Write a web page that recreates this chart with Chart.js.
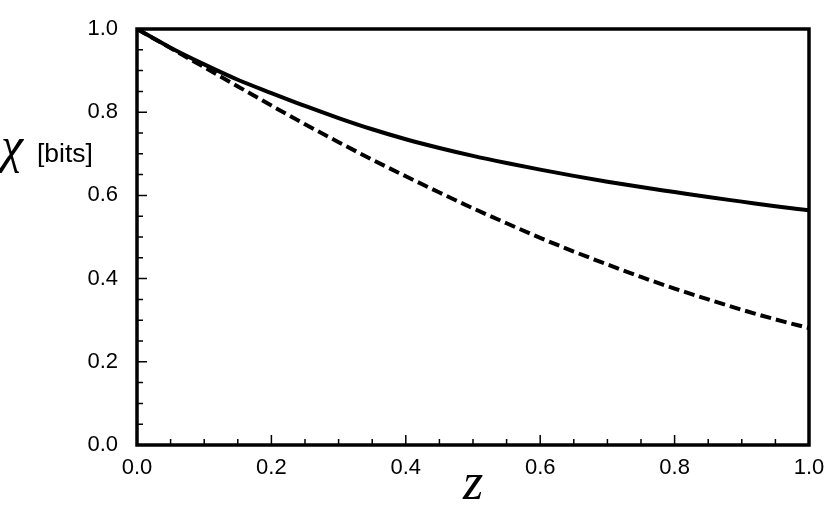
<!DOCTYPE html>
<html>
<head>
<meta charset="utf-8">
<title>chi vs z</title>
<script src="https://cdn.jsdelivr.net/npm/chart.js@4.4.1/dist/chart.umd.min.js"></script>
<style>
    html, body { margin: 0; padding: 0; background: #fff; }
    canvas { display: block; }
</style>
</head>
<body>
<canvas id="chiChart" width="830" height="523"></canvas>
<script>
// values
const zValues = [0, 0.05, 0.1, 0.15, 0.2, 0.25, 0.3, 0.35, 0.4, 0.45, 0.5,
                 0.55, 0.6, 0.65, 0.7, 0.75, 0.8, 0.85, 0.9, 0.95, 1.0];
const solidValues = [1.000, 0.955, 0.915, 0.878, 0.846, 0.815, 0.786, 0.759, 0.735, 0.714, 0.695,
                     0.678, 0.662, 0.647, 0.633, 0.620, 0.608, 0.596, 0.585, 0.574, 0.564];
const dashedValues = [1.000, 0.954, 0.908, 0.862, 0.816, 0.771, 0.728, 0.686, 0.646, 0.607, 0.569,
                      0.533, 0.498, 0.465, 0.434, 0.404, 0.376, 0.350, 0.325, 0.302, 0.281];
const tickStep = 0.2;   // labelled ticks
const minorStep = 0.05; // small ticks

function toPoints(values) {
    return zValues.map((z, i) => ({ x: z, y: values[i] }));
}

// frame, inward ticks and the two axis titles
const framePlugin = {
    id: 'frame',
    afterDatasetsDraw(chart) {
        const ctx = chart.ctx;
        const area = chart.chartArea;
        const xs = chart.scales.x;
        const ys = chart.scales.y;
        ctx.save();
        ctx.strokeStyle = '#000';

        // small and large ticks pointing into the plot
        ctx.lineWidth = 1.5;
        const n = Math.round(1 / minorStep);
        for (let i = 0; i <= n; i++) {
            const v = i * minorStep;
            const len = (i % 4 === 0) ? 10 : 6;
            const px = xs.getPixelForValue(v);
            const py = ys.getPixelForValue(v);
            ctx.beginPath();
            ctx.moveTo(px, area.bottom);
            ctx.lineTo(px, area.bottom - len);
            ctx.moveTo(area.left, py);
            ctx.lineTo(area.left + len, py);
            ctx.stroke();
        }

        // box round the plot
        ctx.lineWidth = 3.5;
        ctx.strokeRect(area.left, area.top, area.right - area.left, area.bottom - area.top);

        // axis titles
        ctx.fillStyle = '#000';
        ctx.textBaseline = 'alphabetic';
        ctx.textAlign = 'left';
        ctx.font = 'italic 50px "Liberation Serif"';
        ctx.fillText('χ', 1, 162);
        ctx.font = '26.5px "Liberation Sans"';
        ctx.fillText('[bits]', 37, 162);
        ctx.textAlign = 'center';
        ctx.font = 'italic 52px "Liberation Serif"';
        ctx.fillText('z', xs.getPixelForValue(0.5), area.bottom + 54);
        ctx.restore();
    }
};

const tickFont = { family: '"Liberation Sans", Arial, sans-serif', size: 22 };

// keep the plot box where the reference has it
function noPadding(scale) {
    scale.paddingLeft = 0;
    scale.paddingRight = 0;
    scale.paddingTop = 0;
    scale.paddingBottom = 0;
}

new Chart(document.getElementById('chiChart'), {
    type: 'line',
    data: {
        datasets: [
            {
                label: 'solid',
                data: toPoints(solidValues),
                borderColor: '#000',
                borderWidth: 4,
                pointRadius: 0,
                cubicInterpolationMode: 'monotone',
                fill: false
            },
            {
                label: 'dashed',
                data: toPoints(dashedValues),
                borderColor: '#000',
                borderWidth: 4,
                borderDash: [11, 5],
                pointRadius: 0,
                cubicInterpolationMode: 'monotone',
                fill: false
            }
        ]
    },
    options: {
        responsive: false,
        animation: false,
        layout: { padding: { top: 29, right: 21, left: 0, bottom: 0 } },
        plugins: {
            legend: { display: false },
            tooltip: { enabled: false }
        },
        scales: {
            x: {
                type: 'linear',
                min: 0,
                max: 1,
                grid: { display: false, drawTicks: false },
                border: { display: false },
                ticks: {
                    stepSize: tickStep,
                    color: '#000',
                    font: tickFont,
                    padding: 10,
                    maxRotation: 0,
                    autoSkip: false,
                    callback: v => v.toFixed(1)
                },
                afterFit: scale => { scale.height = 78; noPadding(scale); }
            },
            y: {
                type: 'linear',
                min: 0,
                max: 1,
                grid: { display: false, drawTicks: false },
                border: { display: false },
                ticks: {
                    stepSize: tickStep,
                    color: '#000',
                    font: tickFont,
                    padding: 19,
                    autoSkip: false,
                    callback: v => v.toFixed(1)
                },
                afterFit: scale => { scale.width = 137; noPadding(scale); }
            }
        }
    },
    plugins: [framePlugin]
});
</script>
</body>
</html>
